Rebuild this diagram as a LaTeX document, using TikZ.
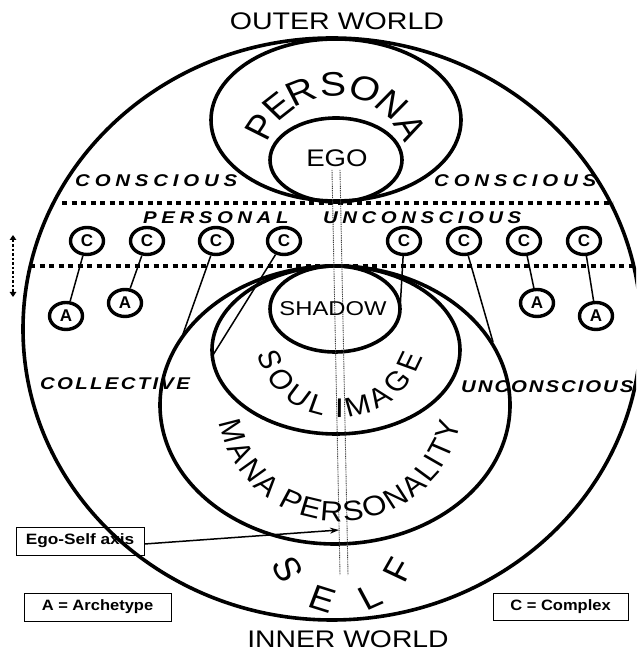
\documentclass[tikz,border=0pt]{standalone}
\usepackage{fontspec}
\usepackage{graphicx}
\setmainfont{Liberation Sans}
\usetikzlibrary{arrows.meta,shapes.geometric,calc}
\ExplSyntaxOn
\NewDocumentCommand\spreadtxt{mm}{\hspace{-#1}\tl_map_inline:nn{#2}{\hspace{#1}##1}}
\ExplSyntaxOff
\tikzset{
  ring/.style={line width=3.6pt},
  sepline/.style={line width=3.6pt, dash pattern=on 5pt off 4.5pt},
  axisline/.style={line width=0.9pt, black!75, dash pattern=on 1pt off 0.8pt},
  cnode/.style={draw, ellipse, line width=3.4pt, minimum width=33pt, minimum height=27pt, inner sep=0pt,
    font=\fontsize{17}{17}\selectfont\bfseries},
  link/.style={line width=1.5pt},
  zone/.style={font=\fontsize{17}{17}\selectfont\bfseries\itshape, xscale=1.2, anchor=west, inner sep=0pt},
  legendbox/.style={draw, line width=0.9pt, inner sep=0pt, font=\fontsize{15}{15}\selectfont\bfseries},
  curvl/.style={inner sep=0pt},
}
\begin{document}
\begin{tikzpicture}[x=1pt,y=1pt]
\clip (0,0) rectangle (636,652);
\fill[white] (0,0) rectangle (636,652);

% main ellipses
\draw[ring] (332,323) ellipse [x radius=309pt, y radius=291pt];
\draw[ring] (336,532) ellipse [x radius=125pt, y radius=81pt];
\draw[ring] (336,492) ellipse [x radius=66pt, y radius=42pt];
\draw[ring] (335,247) ellipse [x radius=175pt, y radius=139pt];
\draw[ring] (336,302) ellipse [x radius=124pt, y radius=84pt];
\draw[ring] (335,343) ellipse [x radius=65pt, y radius=43pt];

% separators
\coordinate (u1) at (62,449); \coordinate (u2) at (613,449);
\coordinate (l1) at (30,386); \coordinate (l2) at (636,386);
\draw[sepline] (u1) -- (u2);
\draw[sepline] (l1) -- (l2);

% Ego-Self axis
\coordinate (ax1) at (332,482); \coordinate (ax2) at (340,77);
\coordinate (ay1) at (340,482); \coordinate (ay2) at (348,77);
\draw[axisline] (ax1) -- (ax2);
\draw[axisline] (ay1) -- (ay2);

% headings
\node[inner sep=0pt, font=\fontsize{24}{24}\selectfont, xscale=1.19] (outer) at (337,630.5) {OUTER WORLD};
\node[inner sep=0pt, font=\fontsize{24}{24}\selectfont, xscale=1.18] (inner) at (348,13) {INNER WORLD};
\node[inner sep=0pt, font=\fontsize{24}{24}\selectfont, xscale=1.15] (ego) at (337,493.5) {EGO};
\node[inner sep=0pt, font=\fontsize{20}{20}\selectfont, xscale=1.19] (shadow) at (333,343) {SHADOW};

% zone labels
\node[zone] (cl) at (75,471) {\spreadtxt{4pt}{CONSCIOUS}};
\node[zone] (cr) at (434,471) {\spreadtxt{4pt}{CONSCIOUS}};
\node[zone] (pers) at (143,434) {\spreadtxt{3.8pt}{PERSONAL}};
\node[zone] (pu) at (323,434) {\spreadtxt{3.75pt}{UNCONSCIOUS}};
\node[zone] (coll) at (40,268) {\spreadtxt{1.9pt}{COLLECTIVE}};
\node[zone] (cu) at (461,265) {\spreadtxt{1.6pt}{UNCONSCIOUS}};

% curved texts
\coordinate (pc) at (336,482);
\foreach \l/\a in {P/150,E/132,R/114,S/92,O/70.4,N/49.5,A/29.2}
  \node[curvl, font=\fontsize{34}{34}\selectfont, xscale=1.15, rotate=\a-90] at ($(pc)+(\a:86)$) {\l};
\coordinate (sc) at (340,319);
\foreach \l/\a in {S/201,O/218.6,U/236.8,L/252.7,I/269.7,M/283.7,A/302,G/319.6,E/337.3}
  \node[curvl, font=\fontsize{27}{27}\selectfont, xscale=1.15, rotate=\a+90] at ($(sc)+(\a:75)$) {\l};
\coordinate (mc) at (340,252);
\foreach \l/\a in {M/196,A/207.8,N/218.7,A/229.6,P/244.4,E/254.9,R/265.8,S/276.7,O/288.1,N/299.9,A/310.8,L/320.5,I/327.2,T/334.3,Y/344.4}
  \node[curvl, font=\fontsize{28}{28}\selectfont, xscale=1.12, rotate=\a+90] at ($(mc)+(\a:112)$) {\l};
\coordinate (fc) at (343,111);
\foreach \l/\a in {S/207.4,E/251,L/296,F/332.6}
  \node[curvl, font=\fontsize{34}{34}\selectfont, xscale=1.1, rotate=\a+90] at ($(fc)+(\a:62)$) {\l};

% complexes and archetypes
\node[cnode] (c1) at (87,411) {C};
\node[cnode] (c2) at (147,411) {C};
\node[cnode] (c3) at (216,411) {C};
\node[cnode] (c4) at (284,411) {C};
\node[cnode] (c5) at (404,411) {C};
\node[cnode] (c6) at (464,411) {C};
\node[cnode] (c7) at (524,411) {C};
\node[cnode] (c8) at (584,411) {C};
\node[cnode] (a1) at (66,336) {A};
\node[cnode] (a2) at (125,349) {A};
\node[cnode] (a3) at (537,349) {A};
\node[cnode] (a4) at (596,336) {A};
\coordinate (m3) at (183,318);
\coordinate (s4) at (213,297);
\coordinate (h5) at (400,342);
\coordinate (m6) at (493,310);
\draw[link] (c1) -- (a1);
\draw[link] (c2) -- (a2);
\draw[link] (c7) -- (a3);
\draw[link] (c8) -- (a4);
\draw[link] (c3) -- (m3);
\draw[link] (c4) -- (s4);
\draw[link] (c5) -- (h5);
\draw[link] (c6) -- (m6);

% left dotted double arrow
\coordinate (la1) at (13,417); \coordinate (la2) at (13,355);
\draw[line width=2.6pt, dash pattern=on 2.5pt off 2pt,
  {Triangle[length=5pt,width=6.5pt]}-{Triangle[length=5pt,width=6.5pt]}] (la1) -- (la2);

% legend boxes
\node[legendbox, minimum width=128pt, minimum height=28pt] (esa) at (80,111) {\scalebox{1.15}[1]{Ego-Self axis}};
\coordinate (axtip) at (339,122);
\draw[link, -{Stealth[length=9pt,width=6pt]}] ([yshift=-3pt]esa.east) -- (axtip);
\node[legendbox, minimum width=147pt, minimum height=28pt] (arch) at (97.5,45) {\scalebox{1.1}[1]{A = Archetype}};
\node[legendbox, minimum width=135pt, minimum height=27pt] (comp) at (560.5,45.5) {\scalebox{1.1}[1]{C = Complex}};
\end{tikzpicture}
\end{document}
